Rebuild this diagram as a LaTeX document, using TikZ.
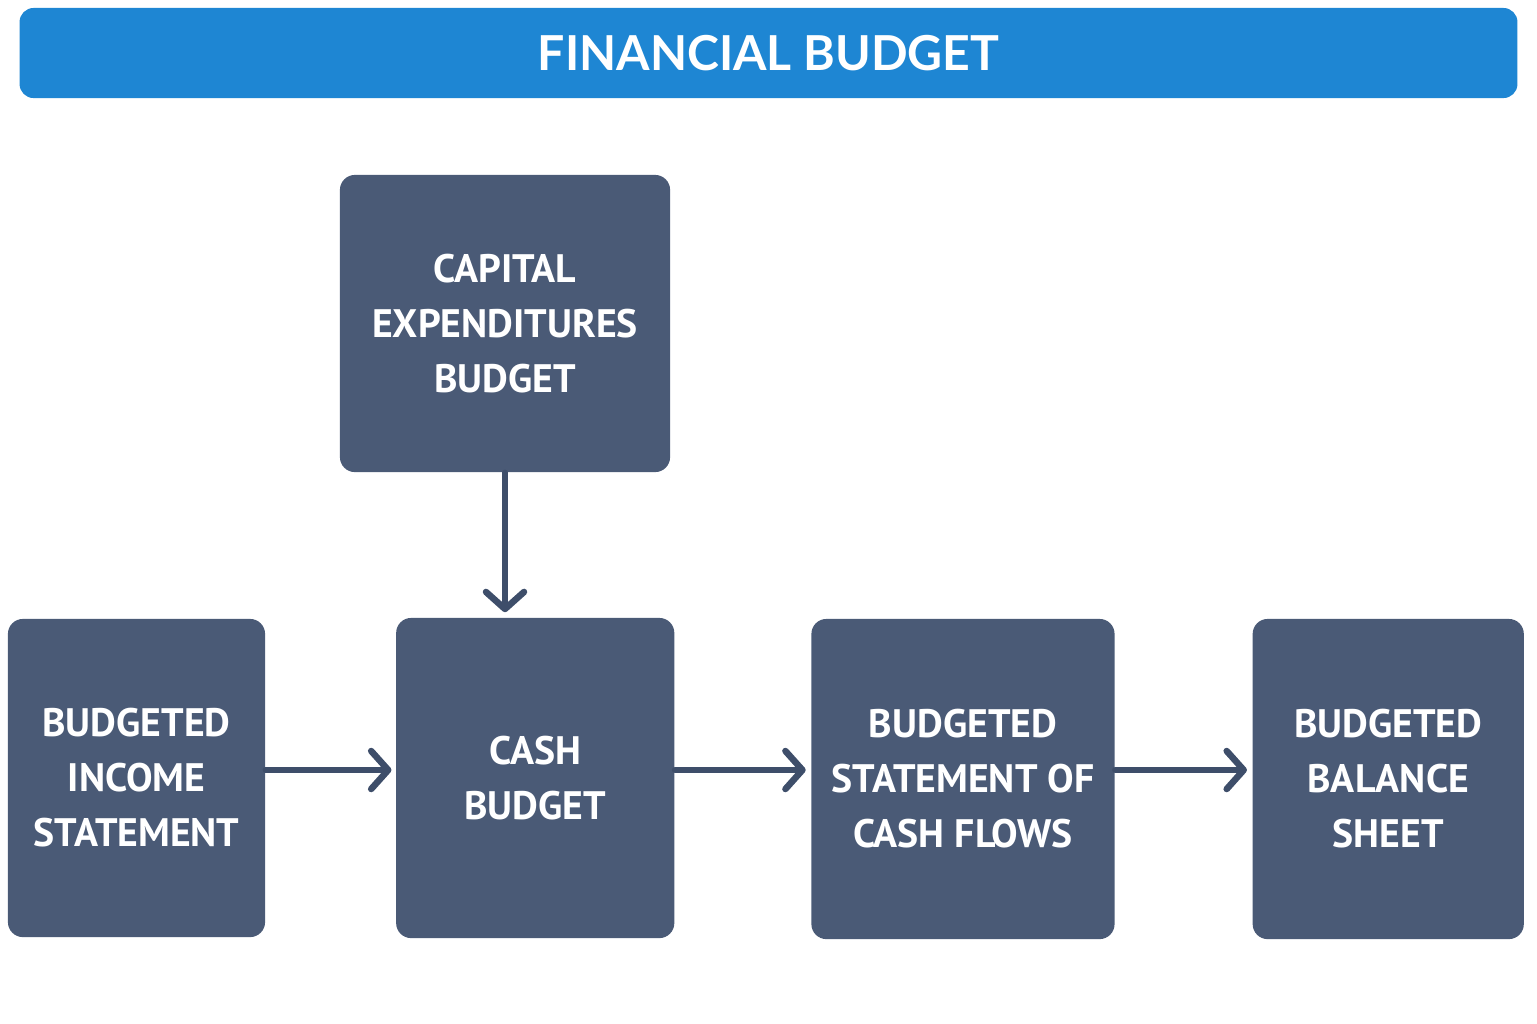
\documentclass[tikz,border=0pt]{standalone}
\usepackage{fontspec}
\setmainfont{PT Sans}
\newfontfamily\bannerfont{Lato}
\usetikzlibrary{arrows.meta,positioning}
\definecolor{barblue}{HTML}{1E86D3}
\definecolor{boxslate}{HTML}{4A5A76}
\definecolor{arrowslate}{HTML}{3E4E6A}
\tikzstyle{banner} = [fill=barblue, rounded corners=0.14cm, text=white,
    minimum width=14.97cm, minimum height=0.9cm,
    font=\bannerfont\bfseries\fontsize{13.7}{15}\selectfont]
\tikzstyle{block} = [fill=boxslate, rounded corners=0.15cm, text=white,
    align=center, inner sep=0pt,
    font=\bfseries\fontsize{11.3}{15.65}\selectfont]
\tikzstyle{link} = [draw=arrowslate, line width=0.065cm, line cap=round,
    -{Straight Barb[round, length=0.17cm, width=0.38cm]}]

\begin{document}
\begin{tikzpicture}[x=0.01cm, y=-0.01cm]
    \useasboundingbox (0,0) rectangle (1537,1023);

    % The title bar and the block on top
    \node [banner, text depth=0pt] (title) at (768.5,53) {FINANCIAL BUDGET\hspace{0.14cm}};
    \node [block, minimum width=3.3cm, minimum height=2.97cm] (capital)
        at (505,323.5) {CAPITAL\\EXPENDITURES\\BUDGET};

    % The row of blocks, placed one right of the other
    \node [block, minimum width=2.57cm, minimum height=3.18cm] (income)
        at (136.5,778) {BUDGETED\\INCOME\\STATEMENT};
    \node [block, right of=income, node distance=3.985cm,
        minimum width=2.78cm, minimum height=3.2cm] (cash) {CASH\\BUDGET};
    \node [block, right of=cash, node distance=4.275cm, yshift=-0.01cm,
        minimum width=3.03cm, minimum height=3.2cm] (cashflows)
        {BUDGETED\\STATEMENT OF\\CASH FLOWS};
    \node [block, right of=cashflows, node distance=4.25cm,
        minimum width=2.71cm, minimum height=3.2cm] (balance)
        {BUDGETED\\BALANCE\\SHEET};

    % Connectors
    \draw [link, shorten >=0.05cm] (capital.south) -- (capital.south |- cash.north);
    \draw [link, shorten >=0.04cm] ([yshift=0.08cm]income.east) -- ([yshift=0.08cm]income.east -| cash.west);
    \draw [link, shorten >=0.05cm] ([yshift=0.08cm]cash.east) -- ([yshift=0.08cm]cash.east -| cashflows.west);
    \draw [link, shorten >=0.05cm] ([yshift=0.09cm]cashflows.east) -- ([yshift=0.09cm]cashflows.east -| balance.west);

\end{tikzpicture}
\end{document}
